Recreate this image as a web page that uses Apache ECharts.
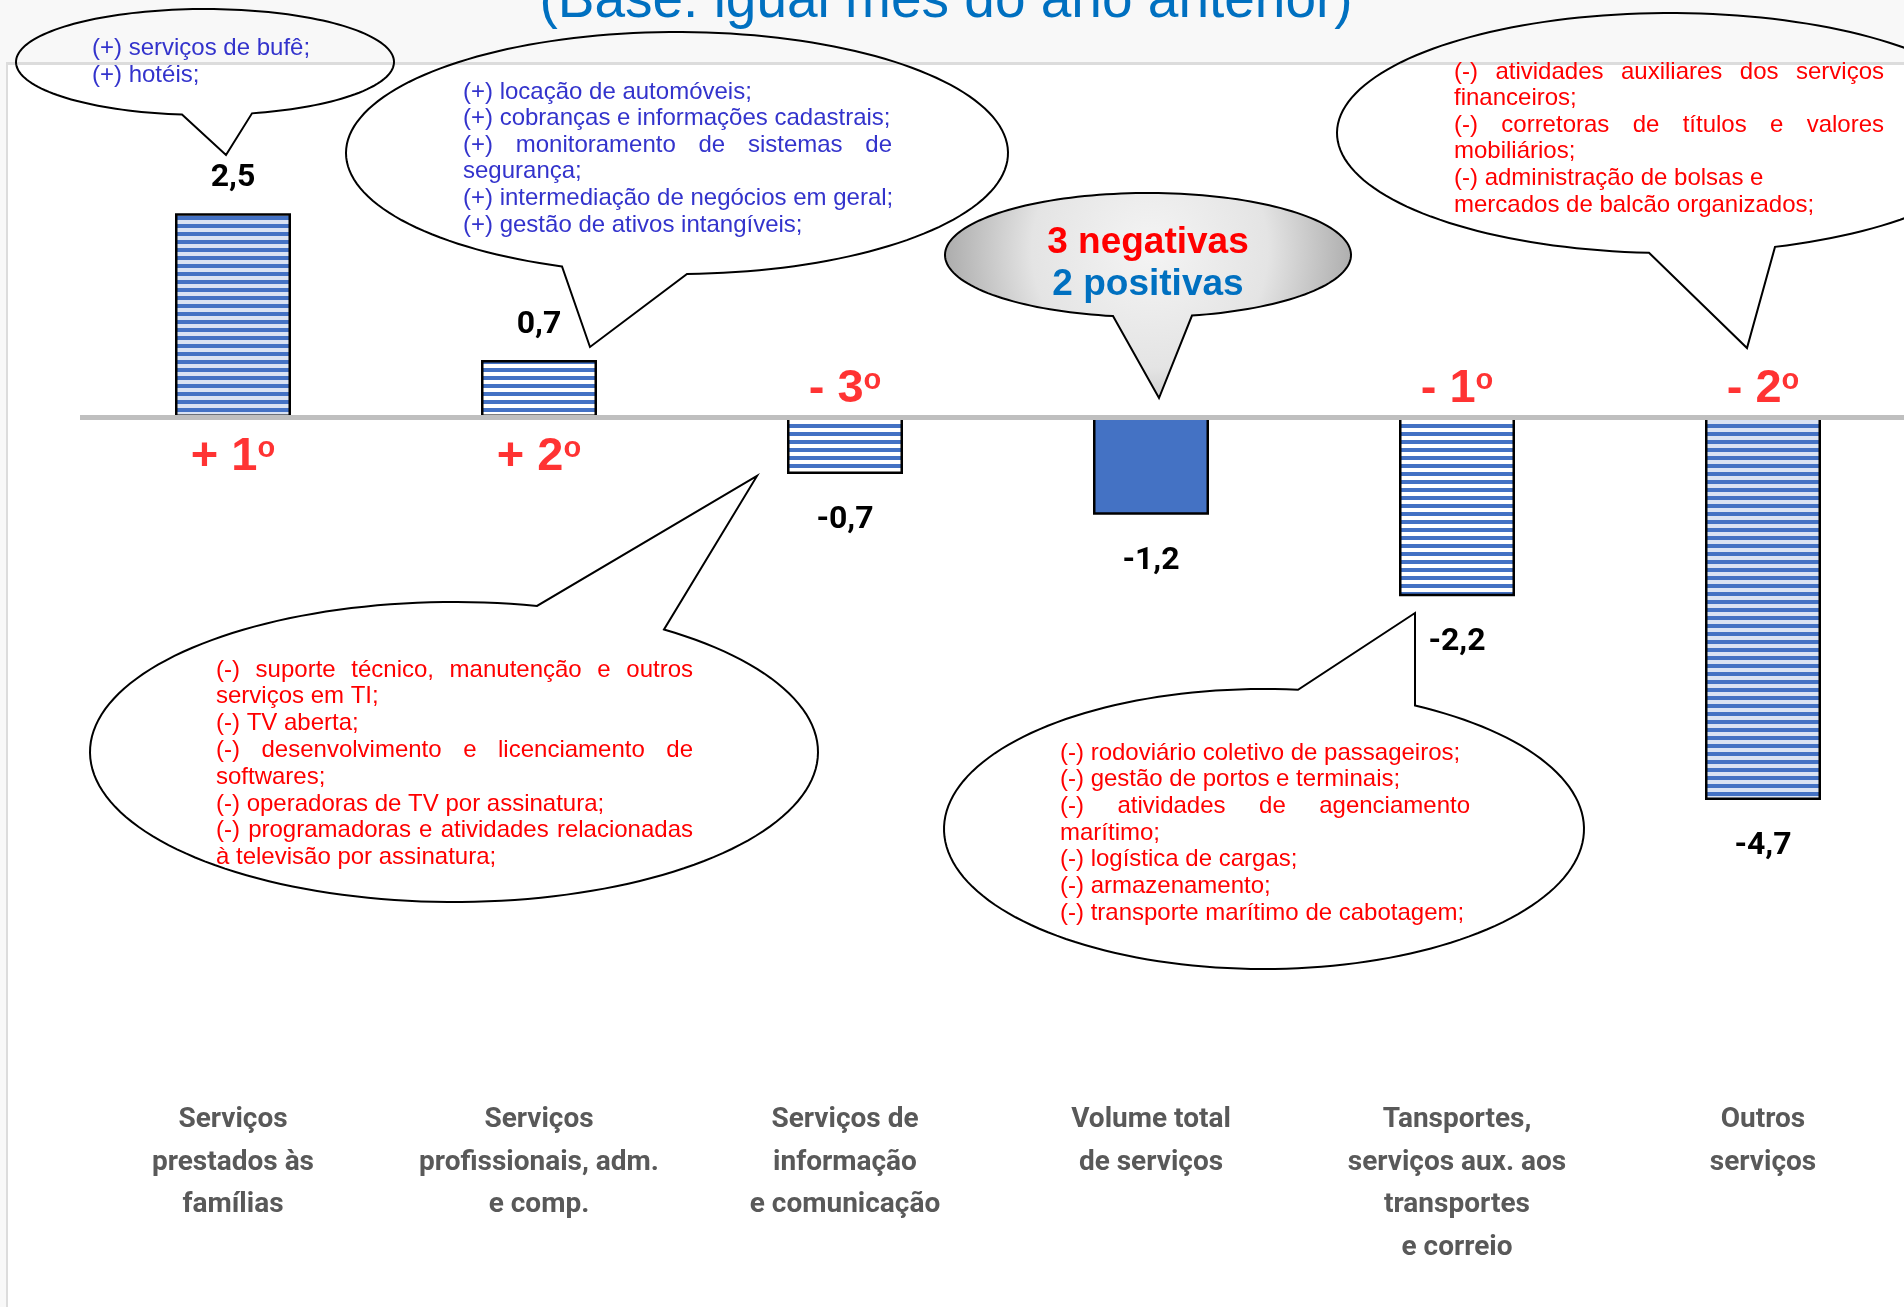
<!DOCTYPE html>
<html>
<head>
<meta charset="utf-8">
<script src="https://cdn.jsdelivr.net/npm/echarts@6/dist/echarts.min.js"></script>
<style>
html, body { margin: 0; padding: 0; background: #f8f8f8; }
#card { position: absolute; left: 6px; top: 62px; right: 0; bottom: 0; background: #fff; border-left: 2px solid #dcdcdc; border-top: 3px solid #dcdcdc; }
#chart { position: absolute; left: 0; top: 0; width: 1904px; height: 1307px; }
</style>
</head>
<body>
<div id="card"></div>
<div id="chart"></div>
<script>
// dados do gráfico
var categorias = [
  'Serviços\nprestados às\nfamílias',
  'Serviços\nprofissionais, adm.\ne comp.',
  'Serviços de\ninformação\ne comunicação',
  'Volume total\nde serviços',
  'Tansportes,\nserviços aux. aos\ntransportes\ne correio',
  'Outros\nserviços'
];
var variacao = [2.5, 0.7, -0.7, -1.2, -2.2, -4.7];
var ranking = ['+ 1', '+ 2', '- 3', '', '- 1', '- 2'];

var titulo = '(Base: igual mês do ano anterior)';
var resumoNeg = '3 negativas';
var resumoPos = '2 positivas';

// textos dos balões ( j = linha justificada )
var txtFamilias = [
  { t: '(+) serviços de bufê;' },
  { t: '(+) hotéis;' }
];
var txtProfissionais = [
  { t: '(+) locação de automóveis;' },
  { t: '(+) cobranças e informações cadastrais;' },
  { t: '(+) monitoramento de sistemas de', j: true },
  { t: 'segurança;' },
  { t: '(+) intermediação de negócios em geral;' },
  { t: '(+) gestão de ativos intangíveis;' }
];
var txtOutros = [
  { t: '(-) atividades auxiliares dos serviços', j: true },
  { t: 'financeiros;' },
  { t: '(-) corretoras de títulos e valores', j: true },
  { t: 'mobiliários;' },
  { t: '(-) administração de bolsas e' },
  { t: 'mercados de balcão organizados;' }
];
var txtInformacao = [
  { t: '(-) suporte técnico, manutenção e outros', j: true },
  { t: 'serviços em TI;' },
  { t: '(-) TV aberta;' },
  { t: '(-) desenvolvimento e licenciamento de', j: true },
  { t: 'softwares;' },
  { t: '(-) operadoras de TV por assinatura;' },
  { t: '(-) programadoras e atividades relacionadas', j: true },
  { t: 'à televisão por assinatura;' }
];
var txtTransportes = [
  { t: '(-) rodoviário coletivo de passageiros;' },
  { t: '(-) gestão de portos e terminais;' },
  { t: '(-) atividades de agenciamento', j: true },
  { t: 'marítimo;' },
  { t: '(-) logística de cargas;' },
  { t: '(-) armazenamento;' },
  { t: '(-) transporte marítimo de cabotagem;' }
];

var fonteNum = 'Roboto, "Liberation Sans", sans-serif';
var fonteTxt = '"Liberation Sans", Arial, sans-serif';
var azul = '#3333cc';
var vermelho = '#ff0000';

function listras(clara) {
  var c = document.createElement('canvas');
  c.width = 8; c.height = 8;
  var g = c.getContext('2d');
  g.fillStyle = clara; g.fillRect(0, 0, 8, 8);
  g.fillStyle = '#4472c4'; g.fillRect(0, 0, 8, 4);
  return { image: c, repeat: 'repeat' };
}
var preench = [listras('#d9e2f3'), listras('#ffffff'), listras('#ffffff'), '#4472c4', listras('#ffffff'), listras('#d9e2f3')];

var medidor = document.createElement('canvas').getContext('2d');
medidor.font = '24px "Liberation Sans"';

function balao(b, fill) {
  var ang = function (x) { return b.lado * Math.acos(Math.max(-1, Math.min(1, (x - b.cx) / b.rx))); };
  var t1 = ang(b.a), t2 = ang(b.b);
  var p = t1, q = t2;
  while (q <= p) q += Math.PI * 2;
  if (q - p < Math.PI) { p = t2; q = t1; while (q <= p) q += Math.PI * 2; }
  var pts = [];
  for (var i = 0; i <= 160; i++) {
    var t = p + (q - p) * i / 160;
    pts.push([b.cx + b.rx * Math.cos(t), b.cy + b.ry * Math.sin(t)]);
  }
  pts.push(b.ponta);
  return {
    type: 'polygon', z: 10, silent: true,
    shape: { points: pts },
    style: { fill: fill || 'none', stroke: '#000', lineWidth: 2 }
  };
}

function paragrafo(x, xr, y0, passo, linhas, cor, els) {
  linhas.forEach(function (l, k) {
    var y = y0 + k * passo;
    var st = function (s, px) {
      els.push({ type: 'text', z: 11, silent: true, x: px, y: y,
        style: { text: s, fill: cor, fontSize: 24, fontFamily: 'Liberation Sans', align: 'left', verticalAlign: 'middle' } });
    };
    if (!l.j) { st(l.t, x); return; }
    var pal = l.t.split(' ');
    var larg = pal.map(function (w) { return medidor.measureText(w).width; });
    var soma = larg.reduce(function (s, v) { return s + v; }, 0);
    var gap = (xr - x - soma) / (pal.length - 1);
    var px = x;
    pal.forEach(function (w, i) { st(w, px); px += larg[i] + gap; });
  });
}

var graficos = [];
graficos.push({ type: 'text', z: 11, silent: true, x: 946, y: 2,
  style: { text: titulo, fill: '#0070c0', fontSize: 55, fontFamily: 'Liberation Sans', align: 'center', verticalAlign: 'middle' } });

graficos.push(balao({ cx: 205, cy: 62, rx: 189, ry: 53, a: 182, b: 252, lado: 1, ponta: [226, 155] }));
graficos.push(balao({ cx: 677, cy: 153, rx: 331, ry: 121, a: 562, b: 687, lado: 1, ponta: [590, 347] }));
graficos.push(balao({ cx: 1670, cy: 133, rx: 333, ry: 120, a: 1649, b: 1775, lado: 1, ponta: [1747, 348] }));
graficos.push(balao({ cx: 1148, cy: 255, rx: 203, ry: 62, a: 1113, b: 1192, lado: 1, ponta: [1159, 398] },
  { type: 'radial', x: 1150, y: 250, r: 215, global: true,
    colorStops: [{ offset: 0, color: '#f4f4f4' }, { offset: 0.55, color: '#e4e4e4' }, { offset: 1, color: '#a6a6a6' }] }));
graficos.push(balao({ cx: 454, cy: 752, rx: 364, ry: 150, a: 537, b: 664, lado: -1, ponta: [757, 476] }));
graficos.push(balao({ cx: 1264, cy: 829, rx: 320, ry: 140, a: 1298, b: 1415, lado: -1, ponta: [1415, 613] }));

paragrafo(92, 400, 48, 27, txtFamilias, azul, graficos);
paragrafo(463, 892, 92, 26.6, txtProfissionais, azul, graficos);
paragrafo(1454, 1884, 72, 26.6, txtOutros, vermelho, graficos);
paragrafo(216, 693, 670, 26.8, txtInformacao, vermelho, graficos);
paragrafo(1060, 1470, 753, 26.7, txtTransportes, vermelho, graficos);

graficos.push({ type: 'text', z: 11, silent: true, x: 1148, y: 243,
  style: { text: resumoNeg, fill: vermelho, fontSize: 37, fontWeight: 'bold', fontFamily: 'Liberation Sans', align: 'center', verticalAlign: 'middle' } });
graficos.push({ type: 'text', z: 11, silent: true, x: 1148, y: 285,
  style: { text: resumoPos, fill: '#0070c0', fontSize: 37, fontWeight: 'bold', fontFamily: 'Liberation Sans', align: 'center', verticalAlign: 'middle' } });

var myChart = echarts.init(document.getElementById('chart'));
myChart.setOption({
  backgroundColor: 'transparent',
  animation: false,
  grid: { left: 80, top: 91, width: 1836, height: 978, outerBoundsMode: 'none', containLabel: false },
  xAxis: {
    type: 'category',
    data: categorias,
    axisLine: { show: false, onZero: false },
    axisTick: { show: false },
    axisLabel: {
      interval: 0, margin: 30,
      color: '#595959', fontSize: 28, fontWeight: 'bold', fontFamily: fonteNum, lineHeight: 42.5
    }
  },
  yAxis: { type: 'value', min: -8, max: 4, show: false, splitLine: { show: false } },
  series: [
    {
      type: 'bar',
      barWidth: 116,
      data: variacao.map(function (v, i) {
        return { value: v, itemStyle: { color: preench[i] }, label: { position: v >= 0 ? 'top' : 'bottom', distance: v >= 0 ? 19 : 30 } };
      }),
      itemStyle: { borderColor: '#000', borderWidth: 2.5 },
      label: {
        show: true,
        formatter: function (p) { return p.value.toFixed(1).replace('.', ','); },
        color: '#000', fontSize: 32, fontWeight: 'bold', fontFamily: fonteNum
      },
      markLine: {
        silent: true, symbol: 'none', label: { show: false },
        lineStyle: { color: '#bfbfbf', width: 5, type: 'solid' },
        data: [{ yAxis: 0 }]
      }
    },
    {
      type: 'scatter',
      symbolSize: 0,
      z: 6,
      data: variacao.map(function (v, i) {
        return { value: [i, 0], label: { position: v >= 0 ? 'bottom' : 'top', distance: v >= 0 ? 17 : 4 } };
      }),
      label: {
        show: true,
        formatter: function (p) { return ranking[p.dataIndex] ? '{n|' + ranking[p.dataIndex] + '}{s|o}' : ''; },
        rich: {
          n: { fontSize: 47, fontWeight: 'bold', color: vermelho, fontFamily: fonteTxt },
          s: { fontSize: 29, fontWeight: 'bold', color: vermelho, fontFamily: fonteTxt, verticalAlign: 'top' }
        }
      }
    }
  ],
  graphic: graficos
});
</script>
</body>
</html>
